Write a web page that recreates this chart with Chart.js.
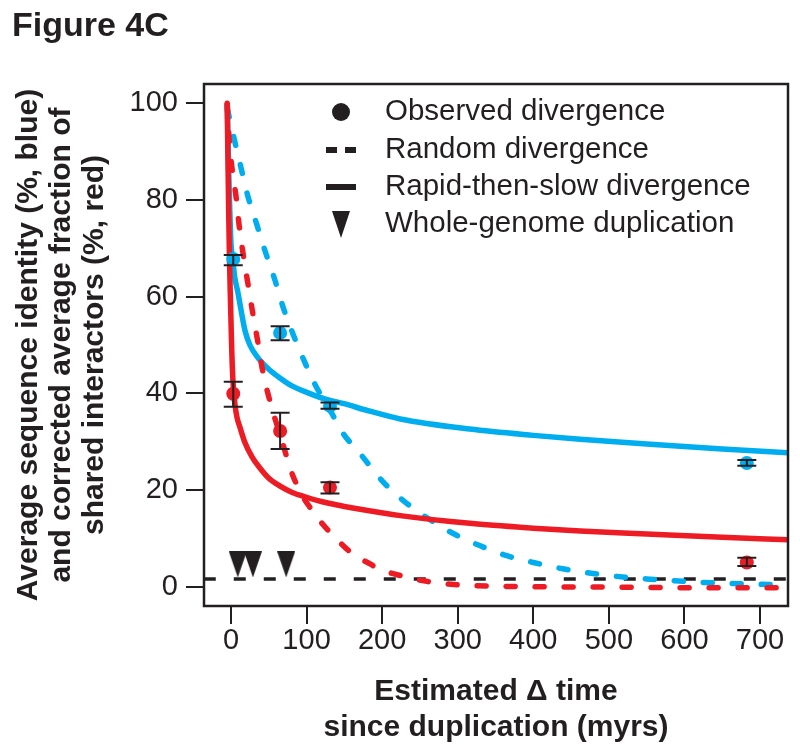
<!DOCTYPE html>
<html>
<head>
<meta charset="utf-8">
<script src="https://cdn.jsdelivr.net/npm/chart.js@4.4.1/dist/chart.umd.min.js"></script>
<style>
  html, body { margin: 0; padding: 0; background: #fff; }
</style>
</head>
<body>
<canvas id="fig4c" width="800" height="754"></canvas>
<script>
// tick labels
const xTicks = [0, 100, 200, 300, 400, 500, 600, 700];
const yTicks = [0, 20, 40, 60, 80, 100];

// observed divergence (points + error bars)
const blueObsX = [3, 65, 131, 682.5];
const blueObsY = [67.8, 52.5, 37.4, 25.6];
const blueObsLo = [66.5, 51.0, 36.8, 25.0];
const blueObsHi = [68.6, 53.9, 38.1, 26.2];
const redObsX = [3, 65, 131, 682.5];
const redObsY = [39.9, 32.2, 20.5, 5.0];
const redObsLo = [37.2, 28.5, 19.3, 4.3];
const redObsHi = [42.4, 36.0, 21.6, 6.0];

// rapid-then-slow divergence (solid)
const blueSolidX = [-5, -4, -3, -2, -1, 0, 2.6, 5, 9, 13, 18.5, 25, 36, 50, 62, 80, 102, 125, 151, 177, 224, 316, 400, 462, 550, 650, 737];
const blueSolidY = [100, 93, 86, 80, 75, 71, 67.4, 64, 61, 57.5, 53, 50, 47.3, 45, 43.5, 41.6, 40.1, 38.8, 37.8, 36.6, 34.7, 32.6, 31.3, 30.5, 29.5, 28.5, 27.7];
const redSolidX = [-5, -4, -3, -2, -1, 0, 1, 2.6, 5, 8, 12, 18, 28, 38, 49, 65, 81, 100, 115, 131, 150, 171, 224, 316, 400, 462, 550, 650, 737];
const redSolidY = [100, 88, 77, 68, 61, 55, 49, 42.6, 38, 35, 32.9, 30, 26.8, 24.6, 22.6, 20.8, 19.5, 18.5, 17.8, 17.2, 16.6, 16, 14.7, 13.1, 12.1, 11.5, 10.9, 10.2, 9.7];

// random divergence (dashed)
const blueDashX = [-5, 4, 12, 22, 34, 45, 58, 69, 82, 98, 111, 134, 148, 171, 200, 228, 259, 294, 329, 365, 400, 439, 500, 550, 600, 650, 700, 737];
const blueDashY = [99, 92.8, 87.5, 81, 75, 69.5, 63.5, 57.8, 52.3, 46.3, 41.9, 35.7, 31.8, 27.5, 21.9, 17.8, 14.3, 11, 8.5, 6.4, 5, 3.7, 2.3, 1.6, 1.1, 0.7, 0.5, 0.3];
const redDashX = [-5, -2.6, 1.3, 6.6, 10.6, 15.9, 22.5, 29, 36, 42, 54, 67.5, 78, 91, 104, 122, 140, 161, 184, 197, 224, 263, 299, 350, 400, 500, 600, 737];
const redDashY = [100, 93, 86.6, 80.8, 75, 69, 62.6, 56.4, 50.2, 44.6, 37, 30.2, 24.6, 19.8, 16.5, 12.8, 9.8, 6.8, 4.7, 3.6, 2.3, 1.0, 0.4, 0.1, 0, -0.1, -0.2, -0.2];

// baseline (black dashed) and whole-genome duplications
const baseX = [-36, 737];
const baseY = [1.6, 1.6];
const wgdX = [9, 29, 73];
const wgdY = [4.6, 4.6, 4.6];

const legendLabels = ["Observed divergence", "Random divergence", "Rapid-then-slow divergence", "Whole-genome duplication"];

const BLUE = "#00AEEF";
const RED = "#ED1C24";
const INK = "#231F20";
const FAMILY = '"Liberation Sans", Arial, Helvetica, sans-serif';

const pts = (xs, ys) => xs.map((x, i) => ({ x: x, y: ys[i] }));

// downward triangle marker
const tri = document.createElement("canvas");
tri.width = 18;
tri.height = 26;
(() => {
  const c = tri.getContext("2d");
  c.fillStyle = INK;
  c.beginPath();
  c.moveTo(0, 0);
  c.lineTo(18, 0);
  c.lineTo(9, 26);
  c.closePath();
  c.fill();
})();

const lineDs = (data, color, dashed) => ({
  data: data,
  showLine: true,
  pointRadius: 0,
  borderColor: color,
  backgroundColor: color,
  borderWidth: 5.5,
  borderDash: dashed ? [9, 20] : [],
  borderCapStyle: dashed ? "round" : "butt",
  borderJoinStyle: "round",
  cubicInterpolationMode: "monotone",
  fill: false,
});

const framePlugin = {
  id: "frame",
  afterDatasetsDraw(chart) {
    const { ctx, chartArea: a } = chart;
    ctx.save();
    ctx.strokeStyle = INK;
    ctx.lineWidth = 2.5;
    ctx.strokeRect(a.left, a.top, a.right - a.left, a.bottom - a.top);
    ctx.restore();
  },
};

const errorBarPlugin = {
  id: "errorBars",
  afterDatasetsDraw(chart) {
    const { ctx, scales } = chart;
    const sx = scales.x, sy = scales.y;
    ctx.save();
    ctx.strokeStyle = INK;
    ctx.lineWidth = 2;
    const draw = (xs, lo, hi) => xs.forEach((v, i) => {
      const px = sx.getPixelForValue(v);
      const p1 = sy.getPixelForValue(lo[i]);
      const p2 = sy.getPixelForValue(hi[i]);
      ctx.beginPath();
      ctx.moveTo(px, p1); ctx.lineTo(px, p2);
      ctx.moveTo(px - 9.5, p1); ctx.lineTo(px + 9.5, p1);
      ctx.moveTo(px - 9.5, p2); ctx.lineTo(px + 9.5, p2);
      ctx.stroke();
    });
    draw(blueObsX, blueObsLo, blueObsHi);
    draw(redObsX, redObsLo, redObsHi);
    ctx.restore();
  },
};

const legendPlugin = {
  id: "figLegend",
  afterDraw(chart) {
    const ctx = chart.ctx;
    const rows = [112, 150, 187, 224];
    const sx = 341, tx = 385;
    ctx.save();
    ctx.fillStyle = INK;
    ctx.strokeStyle = INK;
    ctx.beginPath();
    ctx.arc(sx, rows[0], 9, 0, Math.PI * 2);
    ctx.fill();
    ctx.lineWidth = 6;
    ctx.setLineDash([11, 8]);
    ctx.beginPath();
    ctx.moveTo(326, rows[1]); ctx.lineTo(356, rows[1]);
    ctx.stroke();
    ctx.setLineDash([]);
    ctx.beginPath();
    ctx.moveTo(326, rows[2]); ctx.lineTo(356, rows[2]);
    ctx.stroke();
    ctx.beginPath();
    ctx.moveTo(332, rows[3] - 13); ctx.lineTo(350, rows[3] - 13); ctx.lineTo(341, rows[3] + 14);
    ctx.closePath();
    ctx.fill();
    ctx.font = "29.5px " + FAMILY;
    ctx.textBaseline = "middle";
    ctx.textAlign = "left";
    legendLabels.forEach((t, i) => ctx.fillText(t, tx, rows[i]));
    ctx.restore();
  },
};

new Chart(document.getElementById("fig4c"), {
  type: "scatter",
  data: {
    datasets: [
      { data: pts(blueObsX, blueObsY), pointRadius: 7, pointBackgroundColor: BLUE, pointBorderWidth: 0 },
      { data: pts(redObsX, redObsY), pointRadius: 7, pointBackgroundColor: RED, pointBorderWidth: 0 },
      { data: pts(wgdX, wgdY), pointStyle: tri, pointRadius: 10 },
      lineDs(pts(redSolidX, redSolidY), RED, false),
      lineDs(pts(redDashX, redDashY), RED, true),
      lineDs(pts(blueSolidX, blueSolidY), BLUE, false),
      lineDs(pts(blueDashX, blueDashY), BLUE, true),
      {
        data: pts(baseX, baseY),
        showLine: true,
        pointRadius: 0,
        borderColor: INK,
        borderWidth: 3.5,
        borderDash: [12, 18],
      },
    ],
  },
  options: {
    responsive: false,
    animation: false,
    devicePixelRatio: 1,
    layout: { padding: { left: 12, right: 12, top: 0, bottom: 0 } },
    plugins: {
      legend: { display: false },
      tooltip: { enabled: false },
      title: {
        display: true,
        text: "Figure 4C",
        align: "start",
        color: INK,
        font: { family: FAMILY, size: 34, weight: "bold", lineHeight: 1.2 },
        padding: { top: 6, bottom: 37.2 },
      },
    },
    scales: {
      x: {
        type: "linear",
        min: -35.7,
        max: 737,
        afterBuildTicks: (s) => { s.ticks = xTicks.map((v) => ({ value: v })); },
        afterFit: (s) => { s.height = 148; },
        border: { display: false },
        grid: { drawOnChartArea: false, drawTicks: true, tickLength: 18, tickColor: INK, lineWidth: 2 },
        ticks: { color: INK, font: { family: FAMILY, size: 29 }, padding: 0, maxRotation: 0, autoSkip: false },
        title: {
          display: true,
          text: ["Estimated \u0394 time", "since duplication (myrs)"],
          color: INK,
          font: { family: FAMILY, size: 30, weight: "bold", lineHeight: 1.2 },
          padding: { top: 0, bottom: 8 },
        },
      },
      y: {
        type: "linear",
        min: -4,
        max: 104,
        afterBuildTicks: (s) => { s.ticks = yTicks.map((v) => ({ value: v })); },
        afterFit: (s) => { s.width = 192; },
        border: { display: false },
        grid: { drawOnChartArea: false, drawTicks: true, tickLength: 18, tickColor: INK, lineWidth: 2 },
        ticks: { color: INK, font: { family: FAMILY, size: 29 }, padding: 8 },
        title: {
          display: true,
          text: ["Average sequence identity (%, blue)", "and corrected average fraction of", "shared interactors (%, red)"],
          color: INK,
          font: { family: FAMILY, size: 30, weight: "bold", lineHeight: 1.1 },
          padding: { top: 0, bottom: 0 },
        },
      },
    },
  },
  plugins: [framePlugin, errorBarPlugin, legendPlugin],
});
</script>
</body>
</html>
